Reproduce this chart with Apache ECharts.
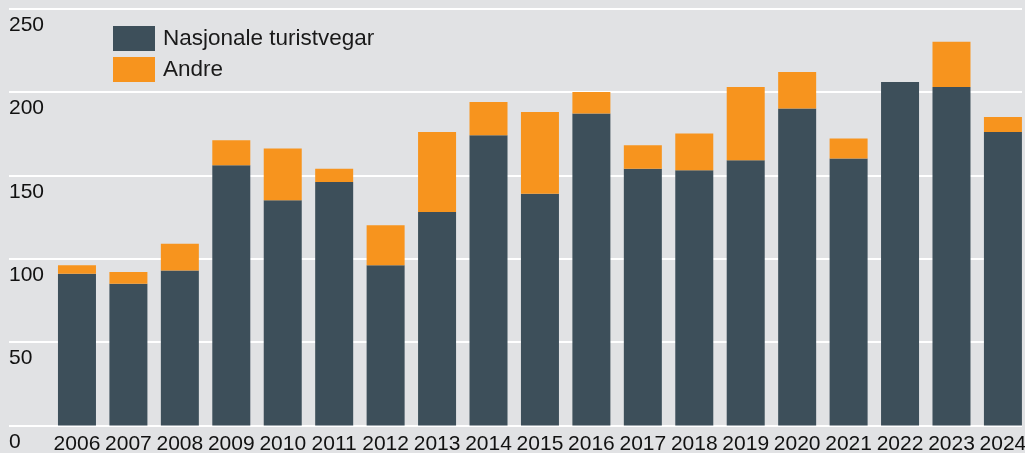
<!DOCTYPE html>
<html>
<head>
<meta charset="utf-8">
<script src="https://cdn.jsdelivr.net/npm/echarts@6/dist/echarts.min.js"></script>
<style>
  html, body { margin: 0; padding: 0; background: #e1e2e4; }
  #chart { width: 1025px; height: 453px; }
</style>
</head>
<body>
<div id="chart"></div>
<script>
// data
const years = ['2006', '2007', '2008', '2009', '2010', '2011', '2012', '2013', '2014', '2015',
               '2016', '2017', '2018', '2019', '2020', '2021', '2022', '2023', '2024'];
const nasjonale = [91, 85, 93, 156, 135, 146, 96, 128, 174, 139, 187, 154, 153, 159, 190, 160, 206, 203, 176];
const andre = [5, 7, 16, 15, 31, 8, 24, 48, 20, 49, 13, 14, 22, 44, 22, 12, 0, 27, 9];

const DARK = '#3d4f5a';
const ORANGE = '#f7941e';
const FONT = '"Liberation Sans", Arial, sans-serif';

const chart = echarts.init(document.getElementById('chart'));

const option = {
  backgroundColor: '#e1e2e4',
  animation: false,
  legend: {
    orient: 'vertical',
    left: 113,
    top: 26,
    padding: 0,
    itemWidth: 42,
    itemHeight: 25,
    itemGap: 6,
    icon: 'rect',
    data: ['Nasjonale turistvegar', 'Andre'],
    textStyle: {
      fontFamily: FONT,
      fontSize: 22.5,
      color: '#1a1a1a',
      lineHeight: 25,
      padding: [0, 0, 0, 3]
    }
  },
  grid: [
    // gridlines + y labels
    { left: 9, right: 3, top: 8.5, bottom: 27.5, outerBoundsMode: 'none' },
    // bars, a little wider than the window on the right
    { left: 51.25, width: 977.4, top: 8.5, bottom: 27.5, outerBoundsMode: 'none' }
  ],
  xAxis: [
    { type: 'value', gridIndex: 0, show: false },
    {
      type: 'category',
      gridIndex: 1,
      data: years,
      axisLine: { show: false },
      axisTick: { show: false },
      axisLabel: {
        interval: 0,
        margin: 8,
        fontFamily: FONT,
        fontSize: 21,
        color: '#111'
      }
    }
  ],
  yAxis: [
    {
      type: 'value',
      gridIndex: 0,
      min: 0,
      max: 250,
      interval: 50,
      axisLine: { show: false },
      axisTick: { show: false },
      splitLine: { lineStyle: { color: '#ffffff', width: 2 } },
      axisLabel: {
        inside: true,
        margin: 0,
        verticalAlign: 'top',
        padding: [6, 0, 0, 0],
        fontFamily: FONT,
        fontSize: 21,
        color: '#111'
      }
    },
    {
      type: 'value',
      gridIndex: 1,
      min: 0,
      max: 250,
      interval: 50,
      show: false,
      splitLine: { show: false }
    }
  ],
  series: [
    {
      name: 'Nasjonale turistvegar',
      type: 'bar',
      stack: 'total',
      xAxisIndex: 1,
      yAxisIndex: 1,
      barWidth: 38,
      itemStyle: { color: DARK },
      data: nasjonale
    },
    {
      name: 'Andre',
      type: 'bar',
      stack: 'total',
      xAxisIndex: 1,
      yAxisIndex: 1,
      barWidth: 38,
      itemStyle: { color: ORANGE },
      data: andre
    }
  ]
};

chart.setOption(option);
</script>
</body>
</html>
